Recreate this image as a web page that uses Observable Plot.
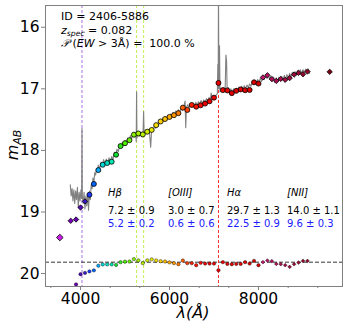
<!DOCTYPE html>
<html><head><meta charset="utf-8">
<script src="https://cdn.jsdelivr.net/npm/d3@7"></script>
<script src="https://cdn.jsdelivr.net/npm/@observablehq/plot@0.6"></script>
<style>
body{margin:0;background:#fff}
svg{display:block}
</style>
</head><body><div id="chart"></div>
<script>
// ---- photometry (magnitudes) ----
const uWl = [3535];
const uMag = [19.415];
const blueWl = [3780, 3900, 4000, 4100];
const blueMag = [19.143, 19.122, 18.927, 18.829];
const midWl = [4200,4300,4400,4500,4600,4700,4800,4900,5000,5100,5200,5300,5400,5500,5600,5700,5800,5900,6000,6100,6200,6300,6400,6500,6600,6700,6800,6900,7000,7100,7200,7300,7400,7500,7600,7700,7800,7900,8000];
const midMag = [18.72,18.545,18.32,18.233,18.205,18.184,18.07,17.93,17.883,17.834,17.745,17.725,17.74,17.696,17.668,17.59,17.53,17.49,17.457,17.428,17.395,17.306,17.343,17.262,17.29,17.268,17.24,17.203,17.143,16.904,17.021,17.026,17.07,17.033,17.01,17.023,17.018,16.894,16.915];
const redWl = [8100,8200,8300,8400,8500,8600,8700,8800,8900,9000,9100,9600];
const redMag = [16.815,16.78,16.842,16.872,16.839,16.854,16.826,16.769,16.741,16.763,16.72,16.724];

// ---- residuals (offset in mag from the dashed baseline) ----
const residBase = 19.815;
const residBlueWl = [3900, 4000, 4100];
const residBlue = [0.36, 0.195, 0.174];
const residMid = [0.15,0.133,0.057,0.036,0.036,0.036,0.044,0,-0.008,-0.01,-0.05,-0.029,0.016,-0.029,-0.046,-0.028,-0.016,-0.011,0.003,0.016,0.033,-0.026,0.016,0.016,0.049,0.011,0.023,0.023,0.023,0.13,0,0.028,0.033,0.028,0.028,0,0.023,-0.021,0.049];
const residRedWl = [8100,8200,8300,8400,8500,8600,8700,8800,8900,9000,9100];
const residRed = [0,-0.026,-0.016,0.028,0.033,0.049,0.076,0.033,0.007,-0.021,-0.021];

// ---- spectrum ----
const specWl = [3770,3790,3810,3830,3850,3870,3890,3910,3930,3950,3970,3990,4010,4025,4033,4041,4060,4080,4100,4120,4140,4160,4180,4200,4220,4240,4260,4280,4300,4320,4340,4360,4380,4400,4430,4460,4490,4520,4550,4580,4610,4640,4670,4700,4730,4760,4790,4820,4850,4880,4910,4940,4970,5000,5030,5060,5090,5120,5150,5180,5210,5240,5252,5260,5268,5290,5320,5350,5380,5405,5418,5430,5460,5490,5520,5550,5577,5600,5630,5660,5690,5720,5750,5780,5810,5840,5870,5900,5930,5960,5990,6020,6050,6080,6110,6140,6170,6200,6230,6260,6290,6320,6350,6365,6380,6410,6440,6470,6500,6530,6560,6590,6620,6650,6680,6710,6740,6770,6800,6830,6860,6890,6920,6937,6960,6990,7020,7050,7075,7086,7094,7101,7110,7124,7135,7160,7190,7220,7250,7268,7283,7295,7320,7350,7380,7410,7440,7470,7500,7530,7560,7590,7620,7650,7680,7710,7740,7770,7800,7830,7860,7890,7920,7950,7980,8010,8040,8070,8100,8130,8160,8190,8220,8250,8280,8310,8340,8370,8400,8430,8460,8490,8520,8550,8580,8610,8640,8670,8700,8730,8760,8790,8820,8850,8880,8910,8940,8970,9000,9030,9060,9090,9120,9150];
const specMag = [18.56,18.74,18.62,18.82,18.64,18.86,18.66,18.8,18.6,18.92,18.68,18.82,18.64,18.78,17.64,18.74,18.86,18.68,18.95,18.74,18.9,18.7,18.97,18.66,18.8,18.56,18.62,18.45,18.52,18.36,18.4,18.3,18.34,18.24,18.3,18.19,18.25,18.15,18.22,18.14,18.21,18.12,18.19,18.1,18.15,18.03,18.08,17.98,18.02,17.92,17.96,17.87,17.92,17.84,17.88,17.8,17.85,17.76,17.81,17.73,17.78,17.72,17.86,17.05,17.8,17.7,17.77,17.71,17.78,17.72,17.37,17.76,17.68,17.73,17.66,17.71,17.95,17.64,17.68,17.6,17.64,17.56,17.6,17.52,17.56,17.49,17.53,17.46,17.5,17.43,17.47,17.41,17.45,17.38,17.42,17.36,17.4,17.34,17.38,17.31,17.35,17.29,17.2,17.63,17.3,17.26,17.31,17.25,17.3,17.24,17.28,17.22,17.27,17.21,17.25,17.19,17.24,17.18,17.22,17.16,17.2,17.14,17.18,17.07,17.16,17.11,17.15,17.1,17.08,16.6,17.0,15.4,17.0,16.3,17.05,16.99,17.04,16.98,17.03,16.45,16.55,17.02,16.98,17.06,17.0,17.06,17.0,17.05,16.99,17.04,16.97,17.02,16.96,17.01,16.95,17.0,16.94,16.98,16.92,16.96,16.89,16.93,16.87,16.91,16.85,16.9,16.83,16.88,16.8,16.85,16.78,16.83,16.77,16.84,16.79,16.88,16.81,16.9,16.82,16.89,16.81,16.87,16.8,16.86,16.78,16.85,16.77,16.83,16.75,16.81,16.73,16.79,16.72,16.78,16.7,16.76,16.69,16.75,16.69,16.74,16.68,16.73,16.68,16.75];

// ---- emission lines ----
const lineOII = [4033];
const lineHbOIII = [5260, 5418];
const lineHa = [7101];
const lineNames = ["Hβ", "[OIII]", "Hα", "[NII]"];
const ewSpec = ["7.2 ± 0.9", "3.0 ± 0.7", "29.7 ± 1.3", "14.0 ± 1.1"];
const ewPhot = ["5.2 ± 0.2", "0.6 ± 0.6", "22.5 ± 0.9", "9.6 ± 0.3"];

// ---- axis ticks ----
const xTicks = [4000, 6000, 8000];
const xMinor = [3333, 4667, 5333, 6667, 7333, 8667, 9333];
const yTicks = [16, 17, 18, 19, 20];

// colour map vs wavelength
const cWl = [3535,3780,3900,4000,4100,4200,4300,4400,4500,4700,4800,5000,5300,5500,5700,5900,6100,6300,6500,6800,7500,8000,8100,8300,8600,9100,9600];
const cCol = ["#c81ee6","#7a00c0","#6800b8","#5408b8","#3a18c8","#1a38ff","#0064ff","#00a8ff","#00d8d8","#00e6b0","#10e030","#50f000","#a0f000","#d0f000","#f8e000","#ffc000","#ff9800","#ff6000","#ff2000","#f00000","#e00000","#d40000","#c0146c","#b0105a","#a00c44","#900828","#780010"];

const zip = (w, m) => w.map((d, i) => ({wl: d, mag: m[i]}));
const zipR = (w, r) => w.map((d, i) => ({wl: d, mag: residBase + r[i]}));

const chart = Plot.plot({
  width: 349, height: 327,
  marginLeft: 45, marginRight: 7, marginTop: 5, marginBottom: 41,
  style: {fontFamily: "DejaVu Sans, sans-serif", fontSize: "15.5px", background: "white", color: "black"},
  x: {domain: [3213, 9888]},
  y: {domain: [20.21, 15.647]},
  color: {type: "linear", domain: cWl, range: cCol},
  marks: [
    Plot.ruleX(lineOII, {stroke: "#b07fe6", strokeDasharray: "3,2", strokeWidth: 1.1}),
    Plot.ruleX(lineHbOIII, {stroke: "#c8f060", strokeDasharray: "3,2", strokeWidth: 1.1}),
    Plot.ruleX(lineHa, {stroke: "#ff3030", strokeDasharray: "3,2", strokeWidth: 1}),
    Plot.line(zip(specWl, specMag), {x: "wl", y: "mag", stroke: "#808080", strokeWidth: 1.1, clip: true}),
    Plot.ruleY([residBase], {stroke: "black", strokeDasharray: "4,2", strokeWidth: 0.8}),
    Plot.dot(zip(uWl, uMag), {x: "wl", y: "mag", fill: "wl", stroke: "black", strokeWidth: 0.8, symbol: "diamond2", r: 3.0}),
    Plot.dot(zip(blueWl, blueMag), {x: "wl", y: "mag", fill: "wl", stroke: "black", strokeWidth: 0.8, symbol: "diamond2", r: 2.4}),
    Plot.dot(zip(midWl, midMag), {x: "wl", y: "mag", fill: "wl", stroke: "black", strokeWidth: 0.8, r: 2.5}),
    Plot.dot(zip(redWl, redMag), {x: "wl", y: "mag", fill: "wl", stroke: "black", strokeWidth: 0.8, symbol: "diamond2", r: 2.4}),
    Plot.dot(zipR(residBlueWl, residBlue), {x: "wl", y: "mag", fill: "wl", stroke: "black", strokeWidth: 0.4, r: 1.7, clip: true}),
    Plot.dot(zipR(midWl, residMid), {x: "wl", y: "mag", fill: "wl", stroke: "black", strokeWidth: 0.4, r: 1.7, clip: true}),
    Plot.dot(zipR(residRedWl, residRed), {x: "wl", y: "mag", fill: "wl", stroke: "black", strokeWidth: 0.4, symbol: "diamond2", r: 1.7, clip: true}),
    Plot.frame({stroke: "#808080"}),
    Plot.axisX({ticks: xTicks, tickFormat: d => String(d), tickSize: 4, tickPadding: 2, label: null, stroke: "#808080", fill: "black"}),
    Plot.axisX({ticks: xMinor, tickSize: 2, tickFormat: () => "", label: null, stroke: "#808080"}),
    Plot.axisY({ticks: yTicks, tickFormat: d => String(d), tickSize: 4, tickPadding: 2, label: null, stroke: "#808080", fill: "black"})
  ]
});
document.getElementById("chart").appendChild(chart);

// ---- annotations ----
const svg = d3.select(chart);
const F = "DejaVu Sans, sans-serif";
function txt(x, y, size, color) {
  return svg.append("text").attr("x", x).attr("y", y).attr("font-family", F)
    .attr("text-anchor", "start")
    .attr("font-size", size).attr("fill", color || "black");
}
// info block
txt(61, 20, "11px").text("ID = 2406-5886");
let t2 = txt(61, 33.5, "11px");
t2.append("tspan").attr("font-style", "italic").text("z");
t2.append("tspan").attr("font-style", "italic").attr("font-size", "7.7px").attr("dy", 2).text("spec");
t2.append("tspan").attr("dy", -2).text(" = 0.082");
let t3 = txt(61, 46.5, "11px");
t3.append("tspan").attr("font-style", "italic").text("𝒫");
t3.append("tspan").text(" (");
t3.append("tspan").attr("font-style", "italic").text("EW");
t3.append("tspan").text(" > 3Å) =  100.0 %");

// emission line table
const colX = [108, 168, 227, 287];
lineNames.forEach((n, i) => {
  txt(colX[i], 196, "10px").attr("font-style", "italic").text(n);
  txt(colX[i], 213.5, "10px").text(ewSpec[i]);
  txt(colX[i], 226.7, "10px", "#1a1aff").text(ewPhot[i]);
});

// axis labels
const xl = txt(193, 318, "16px").attr("text-anchor", "middle").attr("font-style", "italic");
xl.text("λ(Å)");
const yl = svg.append("text").attr("transform", "translate(18,145) rotate(-90)")
  .attr("text-anchor", "middle").attr("font-family", F).attr("font-size", "16px").attr("fill", "black");
yl.append("tspan").attr("font-style", "italic").text("m");
yl.append("tspan").attr("font-style", "italic").attr("font-size", "11px").attr("dy", 3).text("AB");
</script></body></html>
